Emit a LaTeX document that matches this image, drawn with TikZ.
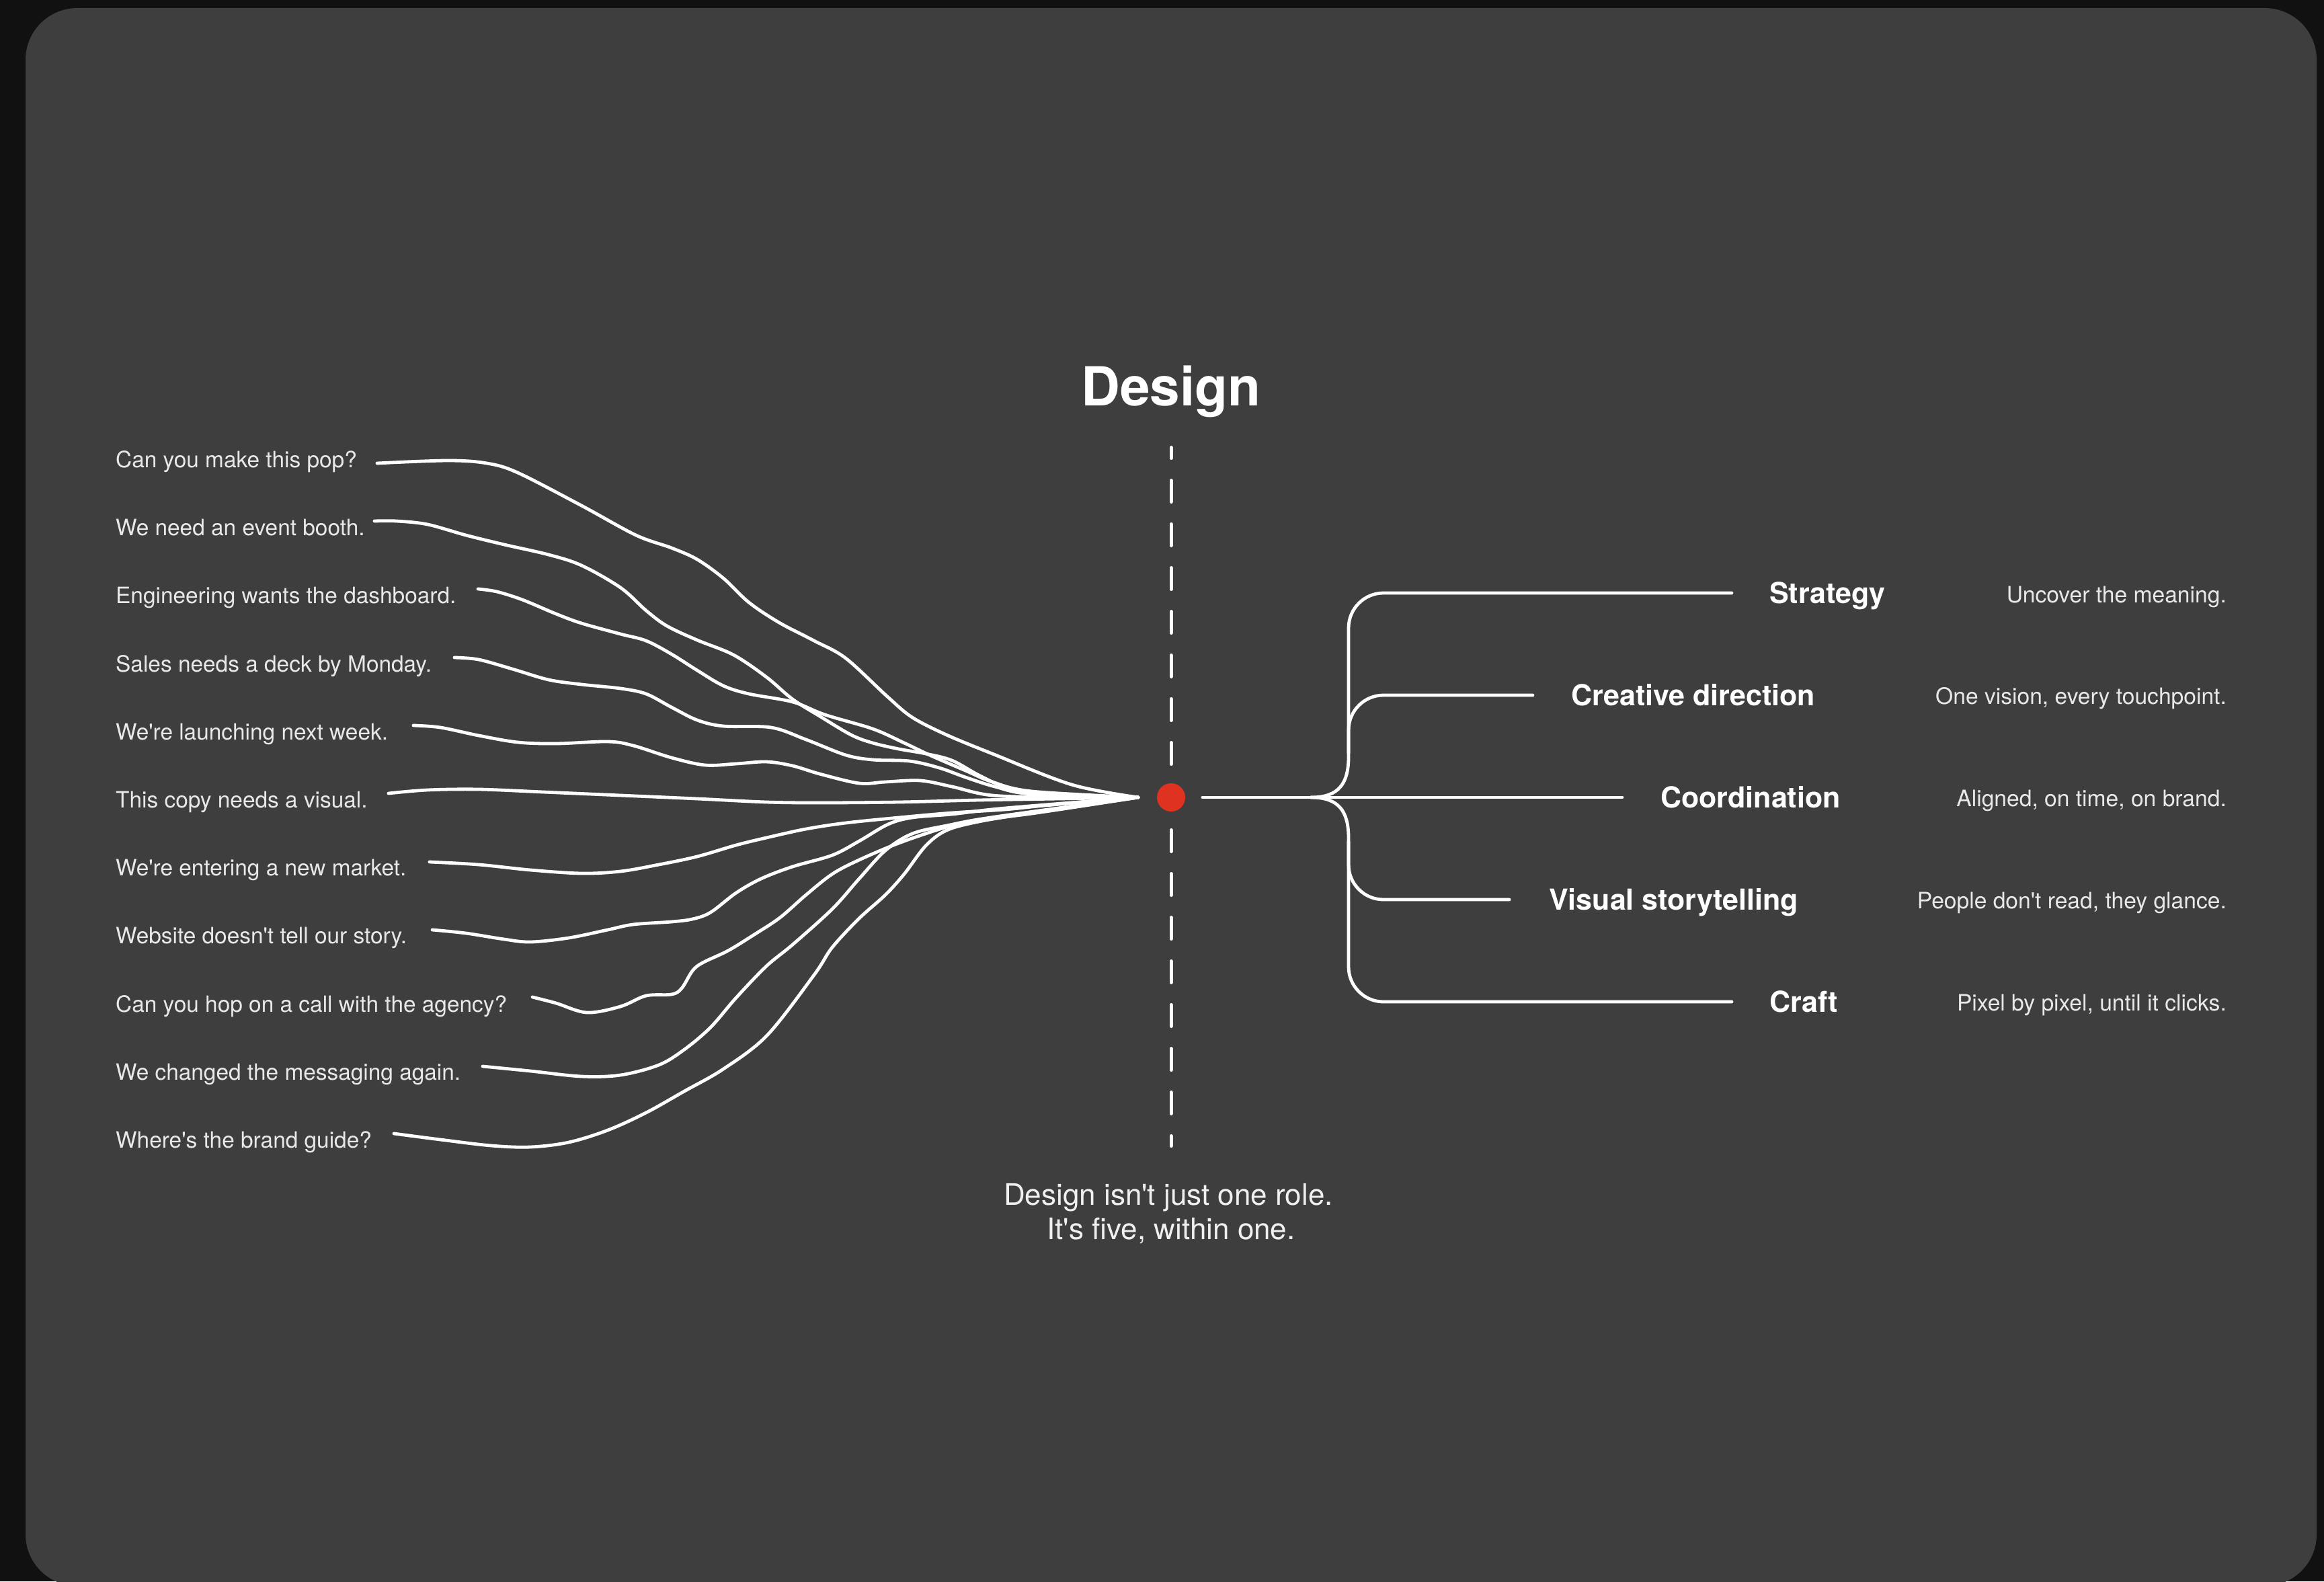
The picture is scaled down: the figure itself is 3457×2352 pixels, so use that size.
\documentclass[tikz,border=0pt]{standalone}
\usepackage{fontspec}
\usetikzlibrary{calc}
\newfontfamily\hv{TeX Gyre Heros}
\definecolor{outerbg}{HTML}{111111}
\definecolor{panelbg}{HTML}{3E3E3E}
\definecolor{dotred}{HTML}{E03221}
\definecolor{softtxt}{HTML}{E8E8E8}
\tikzset{
  curve/.style={draw=white, line width=4.8pt, line cap=round, line join=round},
  branch/.style={draw=white, line width=4.8pt, line cap=round},
  dashline/.style={draw=white, line width=5pt, line cap=round, dash pattern=on 32pt off 33pt, dash phase=16pt},
  qtext/.style={font=\hv\fontsize{33.4}{40}\selectfont, text=softtxt, inner sep=0pt, anchor=base west},
  rolelbl/.style={font=\hv\bfseries\fontsize{43}{50}\selectfont, text=white, inner sep=0pt, anchor=base west},
  desc/.style={font=\hv\fontsize{33.6}{40}\selectfont, text=softtxt, inner sep=0pt, anchor=base east},
  titletext/.style={font=\hv\bfseries\fontsize{80}{90}\selectfont, text=white, inner sep=0pt, anchor=base},
  subtext/.style={font=\hv\fontsize{44}{50}\selectfont, text=white!94!black, inner sep=0pt, anchor=base},
}
\begin{document}
\begin{tikzpicture}[x=1pt,y=-1pt]
\useasboundingbox (0,0) rectangle (3457,2352);
\fill[outerbg] (0,0) rectangle (3457,2352);
\fill[panelbg, rounded corners=77pt] (38,12) rectangle (3446,2359);

% title and dashed axis
\node[titletext] (title) at (1742,603) {Design};
\coordinate (dtop) at (1742,665.5);
\coordinate (dbot) at (1742,1704.5);
\draw[dashline] (dtop) -- (dbot);
\node[circle, fill=dotred, minimum size=42pt, inner sep=0pt] (dot) at (1742,1186) {};

\node[subtext] (sub1) at (1738,1792) {Design isn't just one role.};
\node[subtext] (sub2) at (1742,1843) {It's five, within one.};

% left requests
\node[qtext] (q1) at (172,695) {Can you make this pop?};
\node[qtext] (q2) at (172,796) {We need an event booth.};
\node[qtext] (q3) at (172,897) {Engineering wants the dashboard.};
\node[qtext] (q4) at (172,999) {Sales needs a deck by Monday.};
\node[qtext] (q5) at (172,1100) {We're launching next week.};
\node[qtext] (q6) at (172,1201) {This copy needs a visual.};
\node[qtext] (q7) at (172,1302) {We're entering a new market.};
\node[qtext] (q8) at (172,1403) {Website doesn't tell our story.};
\node[qtext] (q9) at (172,1505) {Can you hop on a call with the agency?};
\node[qtext] (q10) at (172,1606) {We changed the messaging again.};
\node[qtext] (q11) at (172,1707) {Where's the brand guide?};

\coordinate (hub) at (1693,1186);
\coordinate (s1) at (561,689);
\coordinate (s2) at (557,775);
\coordinate (s3) at (711,876);
\coordinate (s4) at (676,978);
\coordinate (s5) at (615,1079);
\coordinate (s6) at (578,1180);
\coordinate (s7) at (639,1282);
\coordinate (s8) at (643,1383);
\coordinate (s9) at (792,1483);
\coordinate (s10) at (718,1586);
\coordinate (s11) at (586,1686);

\draw[curve] plot[smooth, tension=0.55] coordinates {(s1) (666,685) (724,689) (770,703) (865,752) (946,796) (999,815) (1037,832) (1076,860) (1114,896) (1159,926) (1211,953) (1258,979) (1321,1037) (1357,1067) (1408,1093) (1476,1121) (1594,1167) (hub)};
\draw[curve] plot[smooth, tension=0.55] coordinates {(s2) (590,775) (636,780) (693,796) (750,810) (816,825) (865,841) (923,874) (961,908) (992,931) (1037,952) (1091,974) (1140,1007) (1179,1040) (1219,1065) (1266,1093) (1298,1105) (1337,1114) (1377,1121) (1416,1131) (1456,1153) (1495,1170) (1555,1181) (hub)};
\draw[curve] plot[smooth, tension=0.55] coordinates {(s3) (739,880) (777,892) (827,913) (865,927) (923,943) (961,953) (999,973) (1037,997) (1076,1020) (1114,1032) (1179,1044) (1227,1063) (1298,1084) (1345,1105) (1385,1124) (1436,1146) (1476,1163) (1535,1177) (hub)};
\draw[curve] plot[smooth, tension=0.55] coordinates {(s4) (712,981) (762,995) (816,1011) (865,1018) (923,1024) (961,1032) (999,1052) (1037,1071) (1076,1080) (1147,1082) (1199,1100) (1258,1123) (1298,1130) (1353,1132) (1397,1142) (1436,1156) (1480,1170) (1535,1181) (hub)};
\draw[curve] plot[smooth, tension=0.55] coordinates {(s5) (655,1082) (712,1094) (770,1104) (827,1106) (904,1103) (942,1109) (999,1127) (1049,1138) (1095,1136) (1140,1133) (1179,1139) (1219,1151) (1278,1165) (1317,1163) (1369,1161) (1416,1170) (1476,1183) (1580,1186) (hub)};
\draw[curve] plot[smooth, tension=0.55] coordinates {(s6) (636,1175) (712,1174) (808,1178) (923,1183) (1037,1188) (1140,1193) (1219,1194) (1337,1193) (1456,1190) (1574,1188) (hub)};
\draw[curve] plot[smooth, tension=0.55] coordinates {(s7) (712,1286) (789,1294) (865,1299) (923,1296) (980,1286) (1037,1274) (1095,1257) (1140,1246) (1199,1233) (1258,1224) (1337,1216) (1416,1209) (1495,1204) (1555,1198) (hub)};
\draw[curve] plot[smooth, tension=0.55] coordinates {(s8) (693,1388) (750,1397) (789,1401) (846,1395) (904,1383) (942,1375) (999,1371) (1030,1367) (1057,1357) (1095,1328) (1132,1307) (1179,1289) (1238,1272) (1278,1251) (1321,1226) (1357,1216) (1416,1211) (1495,1202) (hub)};
\draw[curve] plot[smooth, tension=0.55] coordinates {(s9) (827,1492) (873,1506) (923,1497) (961,1481) (999,1479) (1014,1470) (1030,1444) (1045,1432) (1083,1414) (1122,1390) (1160,1365) (1199,1331) (1238,1300) (1278,1279) (1337,1254) (1408,1230) (1456,1219) (1535,1210) (hub)};
\draw[curve] plot[smooth, tension=0.55] coordinates {(s10) (789,1593) (865,1601) (923,1599) (980,1584) (1018,1561) (1057,1528) (1095,1484) (1140,1437) (1179,1405) (1238,1352) (1278,1307) (1317,1265) (1357,1240) (1408,1228) (1480,1215) (hub)};
\draw[curve] plot[smooth, tension=0.55] coordinates {(s11) (655,1695) (731,1704) (789,1706) (846,1699) (904,1681) (961,1655) (1018,1623) (1076,1590) (1141,1540) (1211,1450) (1238,1409) (1278,1366) (1317,1331) (1345,1300) (1377,1258) (1408,1235) (1456,1222) (1530,1210) (hub)};

% right branches
\coordinate (rs) at (1789,1186);
\coordinate (fork) at (1950,1186);
\coordinate (stEnd) at (2576,882);
\coordinate (crEnd) at (2280,1034);
\coordinate (coEnd) at (2413,1186);
\coordinate (viEnd) at (2245,1338);
\coordinate (cfEnd) at (2576,1490);

\draw[branch] (rs) -- (coEnd);
\draw[branch] (fork) .. controls (1992,1186) and (2006,1165) .. (2006,1125) [rounded corners=52pt] -- (2006,882) -- (stEnd);
\draw[branch] (fork) .. controls (1992,1186) and (2006,1207) .. (2006,1247) [rounded corners=52pt] -- (2006,1490) -- (cfEnd);
\draw[branch, rounded corners=52pt] (2006,1120) -- (2006,1034) -- (crEnd);
\draw[branch, rounded corners=52pt] (2006,1252) -- (2006,1338) -- (viEnd);

\node[rolelbl] (strategy) at ($(stEnd)+(56,15)$) {Strategy};
\node[rolelbl] (creative) at ($(crEnd)+(57,15)$) {Creative direction};
\node[rolelbl] (coord) at ($(coEnd)+(57,15)$) {Coordination};
\node[rolelbl] (visual) at ($(viEnd)+(59,15)$) {Visual storytelling};
\node[rolelbl] (craft) at ($(cfEnd)+(56,15)$) {Craft};

\node[desc] (d1) at (3312,896) {Uncover the meaning.};
\node[desc] (d2) at (3312,1047) {One vision, every touchpoint.};
\node[desc] (d3) at (3312,1199) {Aligned, on time, on brand.};
\node[desc] (d4) at (3312,1351) {People don't read, they glance.};
\node[desc] (d5) at (3312,1503) {Pixel by pixel, until it clicks.};
\end{tikzpicture}
\end{document}
